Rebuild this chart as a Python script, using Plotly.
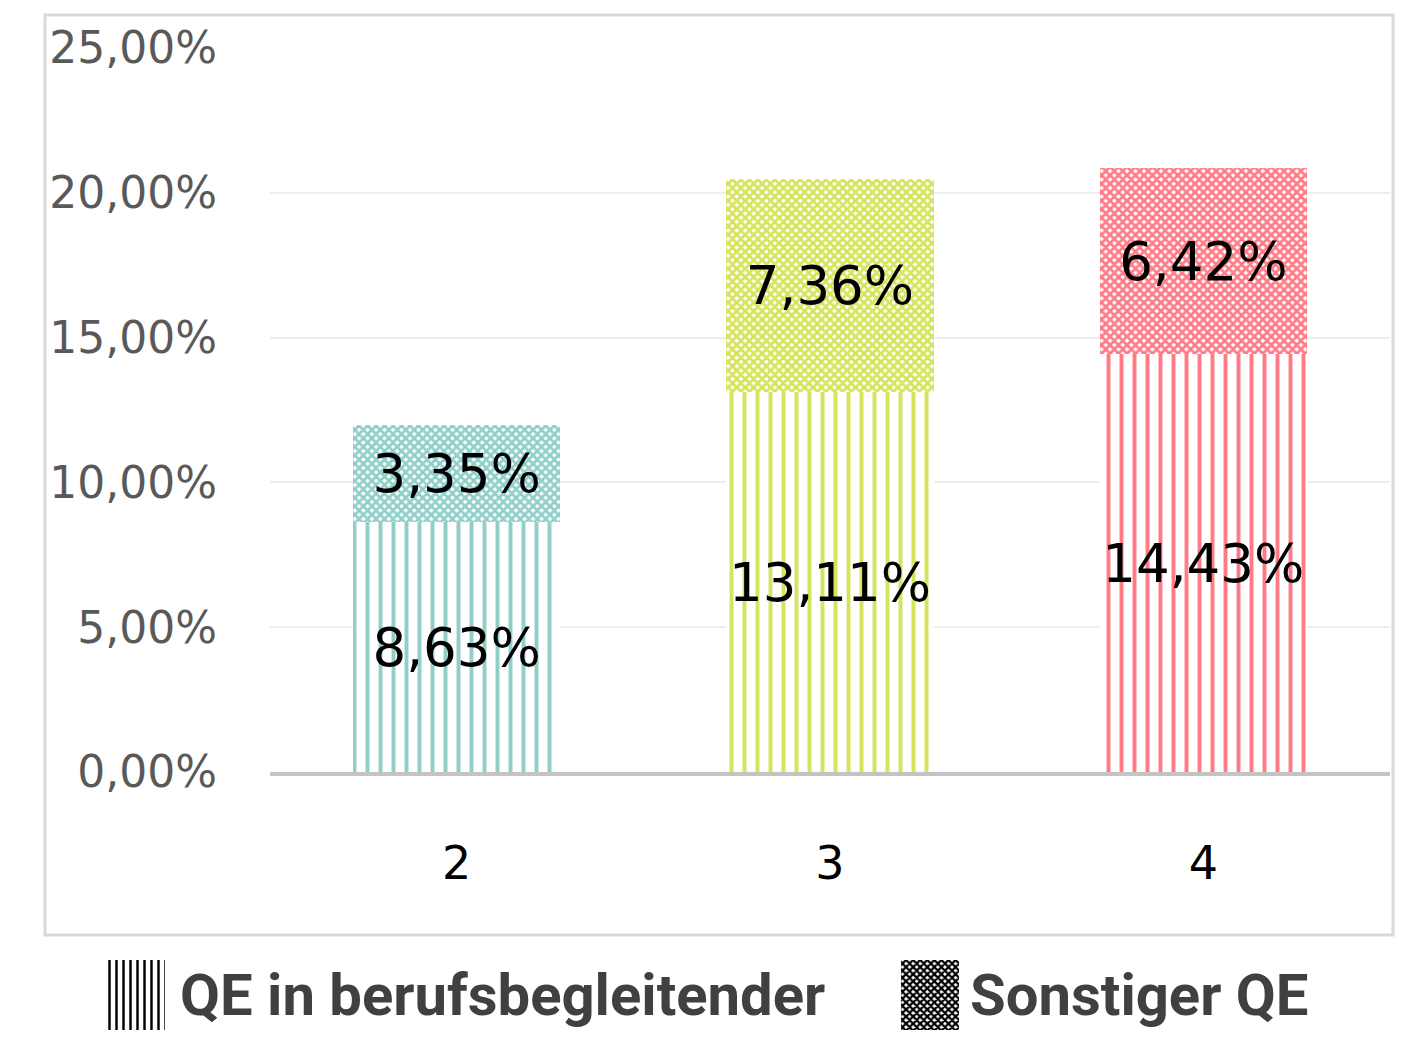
import plotly.graph_objects as go

categories = ["2", "3", "4"]
qe_berufsbegleitend = [8.63, 13.11, 14.43]
sonstiger_qe = [3.35, 7.36, 6.42]
series_names = ["QE in berufsbegleitender", "Sonstiger QE"]
bar_colors = ["#8FCFC8", "#D6E45A", "#FF7A85"]
y_ticks = [0, 5, 10, 15, 20, 25]
y_ticktext = [f"{v:.2f}".replace(".", ",") + "%" for v in y_ticks]

OFF = 8  # default body margin of the html page
W, H = 1420 - 2 * OFF, 1042 - 2 * OFF
def px_x(x): return (x - OFF) / W
def px_y(y): return (H - (y - OFF)) / H

fig = go.Figure()

for i, cat in enumerate(categories):
    fig.add_trace(go.Bar(
        x=[cat], y=[qe_berufsbegleitend[i]], name=series_names[0],
        marker=dict(color="white", line=dict(width=0),
                    pattern=dict(shape="|", fillmode="replace", fgcolor=bar_colors[i],
                                 bgcolor="white", size=13, solidity=0.3)),
        texttemplate="%{y:.2f}%", textposition="inside", insidetextanchor="middle",
        constraintext="none", textangle=0,
        textfont=dict(family="DejaVu Sans", size=53, color="black"),
        showlegend=False, xaxis="x", yaxis="y",
    ))
for i, cat in enumerate(categories):
    fig.add_trace(go.Bar(
        x=[cat], y=[sonstiger_qe[i]], name=series_names[1],
        marker=dict(color="white", line=dict(width=0),
                    pattern=dict(shape="x", fillmode="replace", fgcolor=bar_colors[i],
                                 bgcolor="white", size=6, solidity=0.7)),
        texttemplate="%{y:.2f}%", textposition="inside", insidetextanchor="middle",
        constraintext="none", textangle=0,
        textfont=dict(family="DejaVu Sans", size=53, color="black"),
        showlegend=False, xaxis="x", yaxis="y",
    ))

# legend swatches
for name, shp, sz, sol in zip(series_names, ["|", "x"], [7, 5], [0.35, 0.7]):
    fig.add_trace(go.Bar(
        x=[name], y=[1], width=0.072,
        marker=dict(color="white", line=dict(width=0),
                    pattern=dict(shape=shp, fillmode="replace", fgcolor="black",
                                 bgcolor="white", size=sz, solidity=sol)),
        showlegend=False, hoverinfo="skip", xaxis="x2", yaxis="y2",
    ))

fig.update_layout(
    width=W, height=H, autosize=False,
    margin=dict(l=0, r=0, t=0, b=0, pad=0, autoexpand=False),
    paper_bgcolor="white", plot_bgcolor="white",
    barmode="stack", bargap=0.445,
    separators=",.",
    xaxis=dict(domain=[px_x(270), px_x(1390)], type="category", automargin=False,
               showgrid=False, showline=True, linecolor="#C4C4C4", linewidth=4,
               ticks="", ticklabelstandoff=48,
               tickfont=dict(family="DejaVu Sans", size=46, color="black")),
    yaxis=dict(domain=[px_y(772), px_y(48)], range=[0, 25], automargin=False,
               tickmode="array", tickvals=y_ticks, ticktext=y_ticktext,
               showgrid=True, gridcolor="#EEEEEE", gridwidth=2,
               zeroline=False, showline=False, ticks="", ticklabelstandoff=52,
               tickfont=dict(family="DejaVu Sans", size=44, color="#595959")),
    xaxis2=dict(domain=[0, 1], type="category", categoryarray=series_names,
                range=[(-136 + OFF) / 794, (W - 136 + OFF) / 794],
                visible=False, anchor="y2", automargin=False),
    yaxis2=dict(domain=[px_y(1030), px_y(960)], range=[0, 1], visible=False,
                anchor="x2", automargin=False),
    shapes=[dict(type="rect", xref="paper", yref="paper",
                 x0=px_x(45), x1=px_x(1393), y0=px_y(935), y1=px_y(15),
                 line=dict(color="#D9D9D9", width=3), layer="below")],
    annotations=[
        dict(text=series_names[0], xref="paper", yref="paper", x=px_x(178), y=px_y(995),
             xanchor="left", yanchor="middle", showarrow=False,
             font=dict(family="Roboto", size=58, color="#404040", weight="bold")),
        dict(text=series_names[1], xref="paper", yref="paper", x=px_x(968), y=px_y(995),
             xanchor="left", yanchor="middle", showarrow=False,
             font=dict(family="Roboto", size=58, color="#404040", weight="bold")),
    ],
)

fig.write_html("out.html")
